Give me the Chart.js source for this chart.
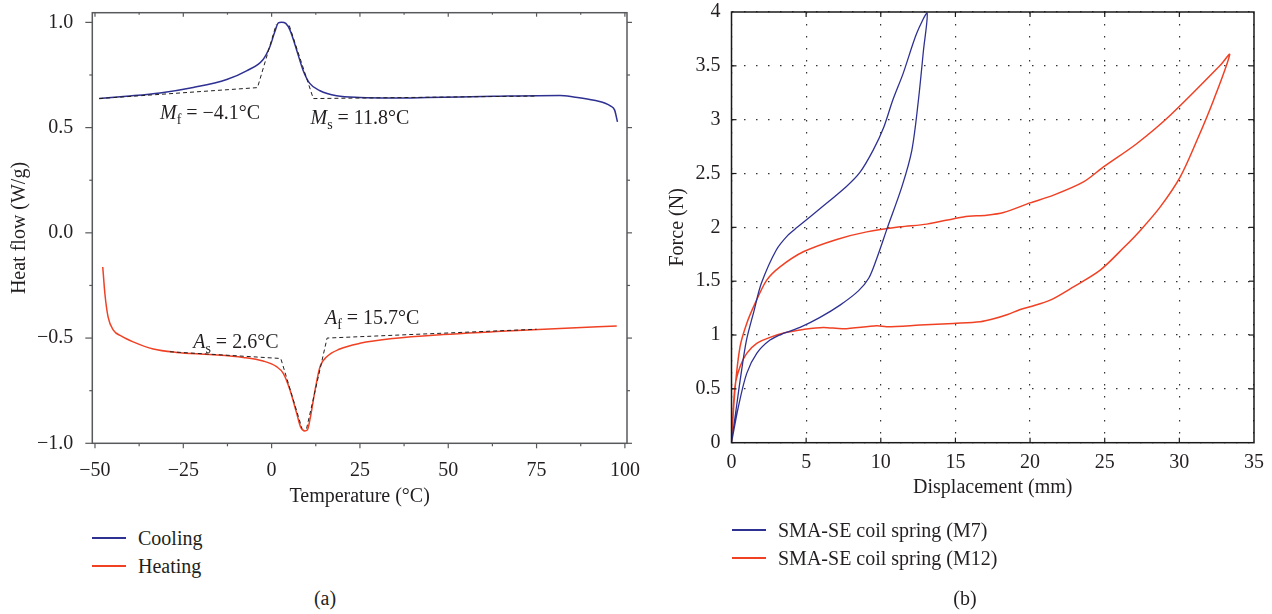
<!DOCTYPE html>
<html>
<head>
<meta charset="utf-8">
<script src="https://cdn.jsdelivr.net/npm/chart.js@4.4.0/dist/chart.umd.min.js"></script>
<style>
  html, body { margin: 0; padding: 0; background: #fff; }
  body { width: 1272px; height: 614px; position: relative; overflow: hidden;
         font-family: "Liberation Serif", "Times New Roman", serif; color: #231f20; }
  canvas { position: absolute; top: 0; }
  .legend { position: absolute; font-size: 20px; }
  .legend .row { position: relative; height: 28px; white-space: nowrap; }
  .legend .ln { position: absolute; left: 0; top: 13px; width: 34px; height: 1.5px; }
  .legend .tx { position: absolute; top: 0; line-height: 28px; }
  .cap { position: absolute; top: 586px; width: 60px; text-align: center; font-size: 20px; line-height: 24px; }
</style>
</head>
<body>
<canvas id="dsc" width="650" height="520" style="left:0"></canvas>
<canvas id="spring" width="636" height="520" style="left:636px"></canvas>
<div class="legend" id="legA" style="left:92px; top:524px"></div>
<div class="legend" id="legB" style="left:732px; top:516px"></div>
<div class="cap" style="left:295px">(a)</div>
<div class="cap" style="left:935px">(b)</div>
<script>
// 共通
const FONT = "'Liberation Serif', 'Times New Roman', serif";
const INK = "#231f20";
const BLUE = "#2e3192";
const RED = "#f04124";

// (a) DSC: 温度 (°C) と熱流 (W/g)
const tempTicks = [-50, -25, 0, 25, 50, 75, 100];
const tempMinor = [-37.5, -12.5, 12.5, 37.5, 62.5, 87.5];
const heatTicks = [-1.0, -0.5, 0.0, 0.5, 1.0];
const heatMinor = [-0.75, -0.25, 0.25, 0.75];

const coolingT  = [-48.8, -41.1, -31.6, -22.2, -12.7, -7.1, -2.4, -0.5, 0.9, 1.9, 2.8, 4.0, 5.2, 7.1, 8.9, 10.8, 13.7, 18.4, 25, 34.4, 43.9, 62.7, 81.6, 85.5, 91.3, 96.0, 97.1, 97.9];
const coolingHF = [0.638, 0.649, 0.665, 0.691, 0.729, 0.770, 0.824, 0.884, 0.955, 0.998, 1.001, 0.995, 0.963, 0.868, 0.773, 0.710, 0.675, 0.651, 0.643, 0.641, 0.643, 0.649, 0.653, 0.646, 0.630, 0.602, 0.583, 0.527];

const heatingT  = [-47.8, -47.2, -46.3, -44.8, -42.5, -39.2, -33.5, -26.9, -17.5, -8.0, -2.4, 1.4, 3.3, 5.2, 7.1, 8.2, 9.4, 10.1, 11.0, 12.3, 13.7, 15.6, 19.3, 25, 34.4, 48.6, 62.7, 81.6, 97.7];
const heatingHF = [-0.162, -0.288, -0.399, -0.462, -0.491, -0.518, -0.552, -0.568, -0.578, -0.592, -0.609, -0.636, -0.668, -0.747, -0.858, -0.922, -0.941, -0.937, -0.874, -0.747, -0.636, -0.589, -0.552, -0.525, -0.502, -0.483, -0.470, -0.454, -0.443];

// 接線（破線）
const mfLineT = [-48.8, -4.0, 1.3];
const mfLineHF = [0.638, 0.690, 0.990];
const msLineT = [5.0, 11.8, 75];
const msLineHF = [0.985, 0.638, 0.650];
const asLineT = [-28.8, 2.6, 8.6];
const asLineHF = [-0.565, -0.597, -0.930];
const afLineT = [9.9, 15.7, 75];
const afLineHF = [-0.930, -0.500, -0.458];

// 注記
const noteSym  = ["M", "M", "A", "A"];
const noteSub  = ["f", "s", "s", "f"];
const noteText = [" = \u22124.1°C", " = 11.8°C", " = 2.6°C", " = 15.7°C"];
const noteT    = [-31.6, 11.0, -22.2, 15.1];
const noteHF   = [0.575, 0.551, -0.513, -0.399];

// (b) 荷重-変位
const dispTicks = [0, 5, 10, 15, 20, 25, 30, 35];
const forceTicks = [0, 0.5, 1, 1.5, 2, 2.5, 3, 3.5, 4];

const m7Disp  = [0, 0.3, 0.6, 1.0, 1.5, 2.0, 3.0, 3.8, 4.4, 5.9, 7.7, 8.6, 9.5, 10.2, 10.8, 11.5, 12.4, 13.1,
                 12.86, 12.52, 12.08, 11.41, 10.45, 9.7, 9.2, 8.5, 7.27, 5.93, 4.59, 3.47, 2.58, 1.69, 1.02, 0.46, 0];
const m7Force = [0, 0.30, 0.60, 0.95, 1.22, 1.48, 1.79, 1.93, 2.00, 2.17, 2.38, 2.51, 2.72, 2.93, 3.18, 3.43, 3.80, 3.99,
                 3.645, 3.18, 2.716, 2.376, 2.00, 1.70, 1.53, 1.41, 1.278, 1.164, 1.071, 1.015, 0.953, 0.830, 0.644, 0.334, 0];

const m12Disp  = [0, 0.23, 0.57, 1.02, 1.58, 2.36, 3.25, 4.81, 7.05, 9.06, 11.29, 13.08, 15.54, 17.10, 18.22, 20.0, 21.57, 23.58, 24.92, 27.16, 29.39, 32.74, 33.37,
                  32.29, 31.18, 30.06, 28.72, 27.4, 26.26, 24.70, 22.91, 21.35, 20.0, 19.3, 18.5, 17.5, 16.66, 14.87, 12.63, 10.40, 9.73, 7.49, 6.15, 4.81, 3.70, 2.58, 1.69, 1.02, 0.57, 0.23, 0];
const m12Force = [0, 0.489, 0.891, 1.108, 1.294, 1.510, 1.633, 1.773, 1.888, 1.958, 2.005, 2.030, 2.097, 2.113, 2.138, 2.227, 2.299, 2.422, 2.561, 2.779, 3.041, 3.505, 3.605,
                  3.181, 2.809, 2.469, 2.190, 1.974, 1.81, 1.603, 1.448, 1.324, 1.262, 1.235, 1.19, 1.148, 1.123, 1.108, 1.092, 1.077, 1.086, 1.058, 1.071, 1.052, 1.025, 0.978, 0.922, 0.830, 0.705, 0.520, 0];

const toXY = (xs, ys) => xs.map((x, i) => ({ x, y: ys[i] }));
const minus = s => String(s).replace("-", "\u2212");

// 枠と目盛り（正: 外向き, 負: 内向き）
const framePlugin = {
  id: "frame",
  afterDatasetsDraw(chart, args, opts) {
    const { ctx, chartArea: a, scales } = chart;
    ctx.save();
    ctx.strokeStyle = opts.color;
    ctx.lineWidth = 1.2;
    const line = (x1, y1, x2, y2) => { ctx.beginPath(); ctx.moveTo(x1, y1); ctx.lineTo(x2, y2); ctx.stroke(); };
    (opts.x || []).forEach(t => t.values.forEach(v => {
      const px = scales.x.getPixelForValue(v);
      line(px, a.bottom, px, a.bottom + t.bottom);
      line(px, a.top, px, a.top - t.top);
    }));
    (opts.y || []).forEach(t => t.values.forEach(v => {
      const py = scales.y.getPixelForValue(v);
      line(a.left, py, a.left - t.left, py);
      line(a.right, py, a.right + t.right, py);
    }));
    ctx.lineWidth = opts.width;
    ctx.strokeRect(a.left, a.top, a.right - a.left, a.bottom - a.top);
    ctx.restore();
  }
};

// 斜体記号＋下付き文字の注記
const notesPlugin = {
  id: "notes",
  afterDatasetsDraw(chart, args, opts) {
    if (!opts.sym) return;
    const { ctx, scales } = chart;
    ctx.save();
    ctx.fillStyle = INK;
    ctx.textBaseline = "alphabetic";
    opts.sym.forEach((s, i) => {
      let px = scales.x.getPixelForValue(opts.xs[i]);
      const base = scales.y.getPixelForValue(opts.ys[i]) + 7;
      ctx.font = "italic 20px " + FONT;
      ctx.fillText(s, px, base);
      px += ctx.measureText(s).width;
      ctx.font = "14px " + FONT;
      ctx.fillText(opts.sub[i], px, base + 5);
      px += ctx.measureText(opts.sub[i]).width;
      ctx.font = "20px " + FONT;
      ctx.fillText(opts.text[i], px, base);
    });
    ctx.restore();
  }
};

const tickFont = { family: FONT, size: 20 };
const titleFont = { family: FONT, size: 20, lineHeight: 1.2 };
const dashed = (xs, ys) => ({ data: toXY(xs, ys), borderColor: INK, borderWidth: 1, borderDash: [4, 3], tension: 0, order: 0 });
// 目盛りラベルの間隔は見えない tick で確保する（ticks.padding は上余白に効くため）
const hiddenGrid = len => ({ display: true, drawOnChartArea: false, color: "transparent", tickColor: "transparent", tickLength: len });

new Chart(document.getElementById("dsc"), {
  type: "line",
  data: {
    datasets: [
      dashed(mfLineT, mfLineHF),
      dashed(msLineT, msLineHF),
      dashed(asLineT, asLineHF),
      dashed(afLineT, afLineHF),
      { label: "Cooling", data: toXY(coolingT, coolingHF), borderColor: BLUE, borderWidth: 1.5, cubicInterpolationMode: "monotone", order: 1 },
      { label: "Heating", data: toXY(heatingT, heatingHF), borderColor: RED, borderWidth: 1.5, cubicInterpolationMode: "monotone", order: 1 }
    ]
  },
  plugins: [framePlugin, notesPlugin],
  options: {
    responsive: false,
    animation: false,
    events: [],
    layout: { padding: { top: 12.7, right: 23, bottom: 0, left: 0 } },
    elements: { point: { radius: 0 } },
    plugins: {
      legend: { display: false },
      tooltip: { enabled: false },
      frame: {
        color: "#58595b", width: 1.5,
        x: [{ values: tempTicks, bottom: 5, top: -4 }, { values: tempMinor, bottom: 3, top: -2 }],
        y: [{ values: heatTicks, left: 7, right: 5 }, { values: heatMinor, left: 3, right: 3 }]
      },
      notes: { sym: noteSym, sub: noteSub, text: noteText, xs: noteT, ys: noteHF }
    },
    scales: {
      x: {
        type: "linear", min: -50.76, max: 100.6,
        afterBuildTicks: s => { s.ticks = tempTicks.map(v => ({ value: v })); },
        afterFit: s => { s.height = 520 - 443.3; },
        grid: hiddenGrid(15), border: { display: false },
        ticks: { font: tickFont, color: INK, padding: 0, maxRotation: 0, callback: v => minus(v) },
        title: { display: true, text: "Temperature (°C)", font: titleFont, color: INK, padding: { top: 0, bottom: 11 } }
      },
      y: {
        type: "linear", min: -1.0, max: 1.046,
        afterBuildTicks: s => { s.ticks = heatTicks.map(v => ({ value: v })); },
        afterFit: s => { s.width = 92.3; },
        grid: hiddenGrid(19), border: { display: false },
        ticks: { font: tickFont, color: INK, padding: 0, callback: v => minus(v.toFixed(1)) },
        title: { display: true, text: "Heat flow (W/g)", font: titleFont, color: INK, padding: { top: 8, bottom: 0 } }
      }
    }
  }
});

new Chart(document.getElementById("spring"), {
  type: "line",
  data: {
    datasets: [
      { label: "SMA-SE coil spring (M7)", data: toXY(m7Disp, m7Force), borderColor: BLUE, borderWidth: 1.3, tension: 0.3 },
      { label: "SMA-SE coil spring (M12)", data: toXY(m12Disp, m12Force), borderColor: RED, borderWidth: 1.5, tension: 0.3 }
    ]
  },
  plugins: [framePlugin],
  options: {
    responsive: false,
    animation: false,
    events: [],
    layout: { padding: { top: 11.7, right: 18, bottom: 0, left: 0 } },
    elements: { point: { radius: 0 } },
    plugins: {
      legend: { display: false },
      tooltip: { enabled: false },
      frame: {
        color: "#1a1a1a", width: 1.5,
        x: [{ values: dispTicks.slice(1, -1), bottom: -5, top: -5 }],
        y: [{ values: forceTicks.slice(1, -1), left: -5, right: -5 }]
      }
    },
    scales: {
      x: {
        type: "linear", min: 0, max: 35,
        afterBuildTicks: s => { s.ticks = dispTicks.map(v => ({ value: v })); },
        afterFit: s => { s.height = 520 - 442.7; },
        grid: { color: "#333", lineWidth: 1.2, tickColor: "transparent", tickLength: 8 },
        border: { display: false, dash: [1.5, 10.5] },
        ticks: { font: tickFont, color: INK, padding: 0, maxRotation: 0 },
        title: { display: true, text: "Displacement (mm)", font: titleFont, color: INK, padding: { top: 0, bottom: 20 } }
      },
      y: {
        type: "linear", min: 0, max: 4,
        afterBuildTicks: s => { s.ticks = forceTicks.map(v => ({ value: v })); },
        afterFit: s => { s.width = 95.5; },
        grid: { color: "#333", lineWidth: 1.2, tickColor: "transparent", tickLength: 11 },
        border: { display: false, dash: [1.5, 10.5] },
        ticks: { font: tickFont, color: INK, padding: 0, callback: v => String(v) },
        title: { display: true, text: "Force (N)", font: titleFont, color: INK, padding: { top: 30, bottom: 0 } }
      }
    }
  }
});

// 凡例（HTML）
function buildLegend(id, names, colors) {
  const el = document.getElementById(id);
  names.forEach((name, i) => {
    const row = document.createElement("div");
    row.className = "row";
    row.innerHTML = `<span class="ln" style="background:${colors[i]}"></span><span class="tx" style="left:46px">${name}</span>`;
    el.appendChild(row);
  });
}
buildLegend("legA", ["Cooling", "Heating"], [BLUE, RED]);
buildLegend("legB", ["SMA-SE coil spring (M7)", "SMA-SE coil spring (M12)"], [BLUE, RED]);
</script>
</body>
</html>
